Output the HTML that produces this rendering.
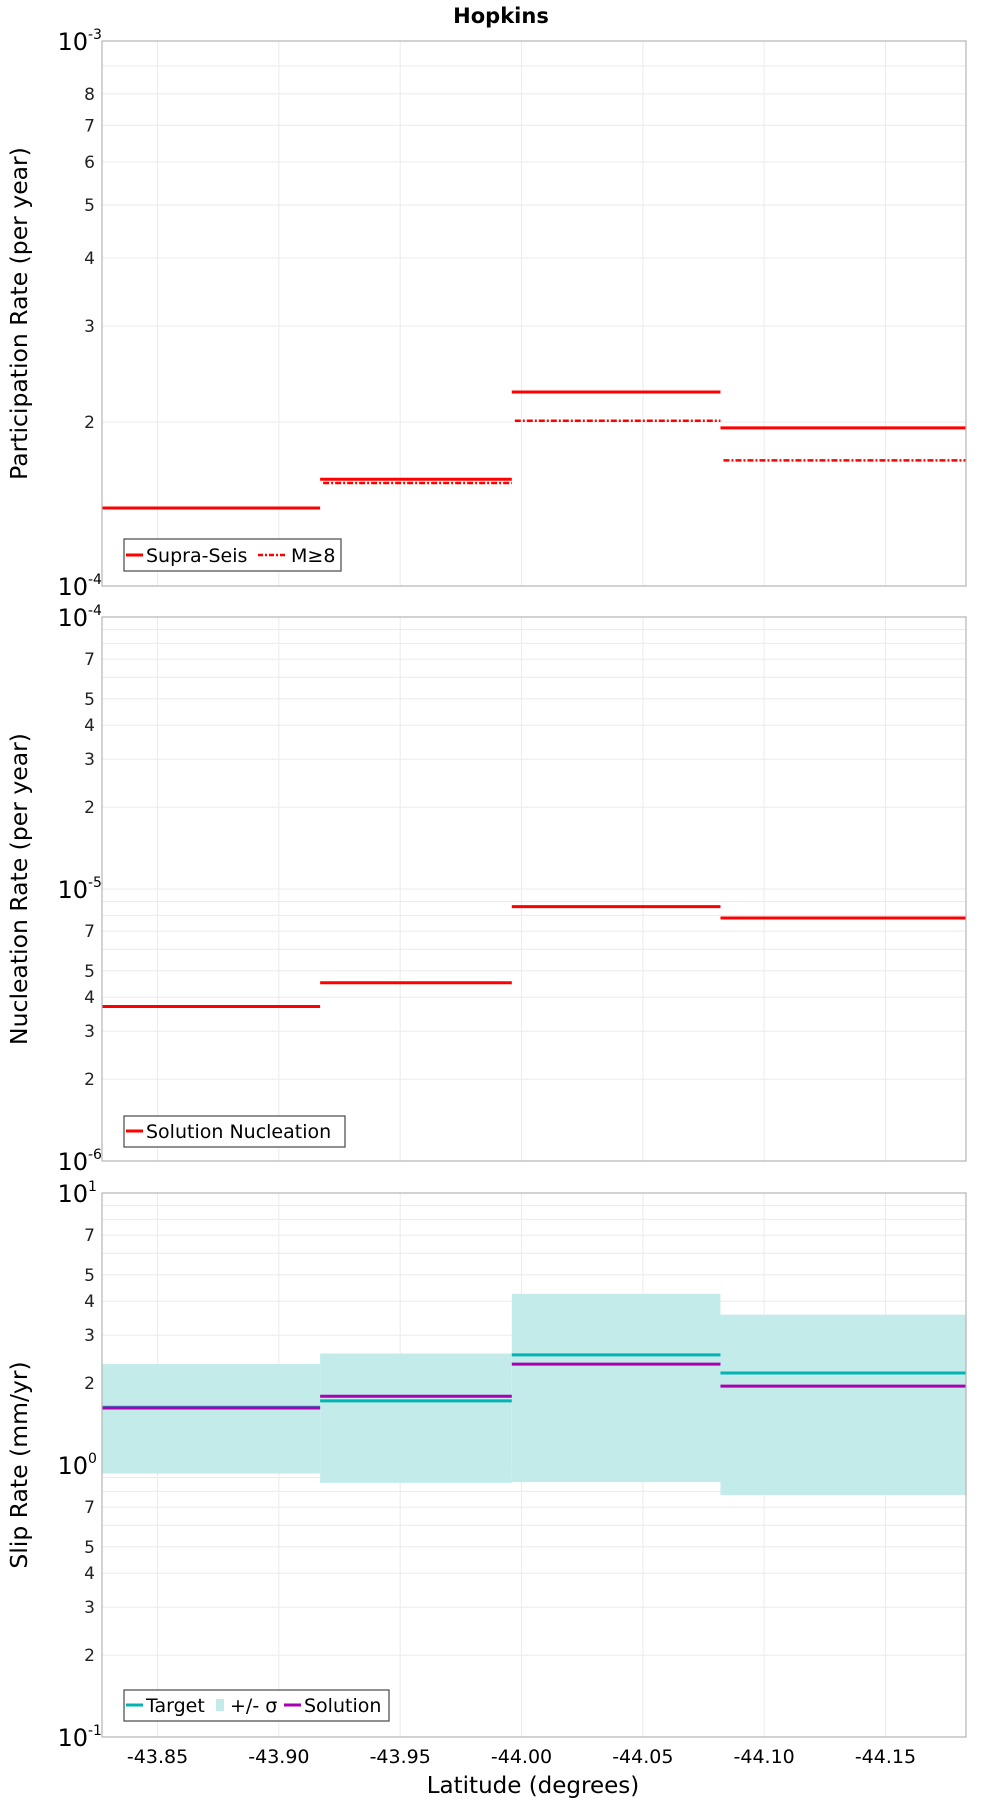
<!DOCTYPE html>
<html><head><meta charset="utf-8">
<style>
html,body{margin:0;padding:0;background:#fff;}
svg{display:block;font-family:"DejaVu Sans","Liberation Sans",sans-serif;}
</style></head>
<body>
<svg id="chart" width="1000" height="1800" viewBox="0 0 1000 1800" xmlns="http://www.w3.org/2000/svg"></svg>
<script>
// ---- data ----
const segStarts = [-43.8271, -43.917, -43.996, -44.082];
const segEnds = [-43.917, -43.996, -44.082, -44.1832];
const xTicks = [-43.85, -43.90, -43.95, -44.00, -44.05, -44.10, -44.15];
const xTickLabels = ["-43.85", "-43.90", "-43.95", "-44.00", "-44.05", "-44.10", "-44.15"];
const supraSeis = [1.39e-4, 1.57e-4, 2.27e-4, 1.95e-4];
const m8 = [1.39e-4, 1.545e-4, 2.01e-4, 1.70e-4];
const nucleation = [3.70e-6, 4.52e-6, 8.61e-6, 7.82e-6];
const slipTarget = [1.63, 1.72, 2.54, 2.18];
const slipSolution = [1.62, 1.79, 2.35, 1.95];
const slipUpper = [2.35, 2.57, 4.26, 3.57];
const slipLower = [0.93, 0.86, 0.865, 0.776];

const NS = "http://www.w3.org/2000/svg";
const svg = document.getElementById("chart");
function mk(tag, attrs, parent) {
  const e = document.createElementNS(NS, tag);
  for (const k in attrs) e.setAttribute(k, attrs[k]);
  (parent || svg).appendChild(e);
  return e;
}
const L = 102, R = 966;
const xMin = -43.8271, xMax = -44.1832;
function xs(v) { return L + (v - xMin) / (xMax - xMin) * (R - L); }

const panels = [
  {name: "participation", top: 41, bot: 586, lo: -4, hi: -3, labels: [2,3,4,5,6,7,8], title: "Participation Rate (per year)"},
  {name: "nucleation", top: 617, bot: 1161, lo: -6, hi: -4, labels: [2,3,4,5,7], title: "Nucleation Rate (per year)"},
  {name: "slip-rate", top: 1193, bot: 1737, lo: -1, hi: 1, labels: [2,3,4,5,7], title: "Slip Rate (mm/yr)"}
];
function ysFor(p) { return v => p.bot - (Math.log10(v) - p.lo) / (p.hi - p.lo) * (p.bot - p.top); }

let t = mk("text", {x: 501, y: 23, "text-anchor": "middle", "font-size": 21, "font-weight": "bold"});


t.textContent = "Hopkins";

panels.forEach((p, pi) => {
  const g = mk("g", {});
  
  
  const ys = ysFor(p);
  xTicks.forEach(v => {
    const gl = mk("line", {x1: xs(v), x2: xs(v), y1: p.top, y2: p.bot, stroke: "#ebebeb", "stroke-width": 1}, g);
    
    
  });
  for (let d = p.lo; d < p.hi; d++) {
    for (let m = 2; m <= 9; m++) {
      const y = ys(m * Math.pow(10, d));
      const gl = mk("line", {x1: L, x2: R, y1: y, y2: y, stroke: "#ebebeb", "stroke-width": 1}, g);
      
      
      if (p.labels.indexOf(m) >= 0) {
        const tl = mk("text", {x: 95, y: y + 6, "text-anchor": "end", "font-size": 17, fill: "#222"}, g);
        
        
        tl.textContent = m;
      }
    }
    if (d > p.lo) {
      const y = ys(Math.pow(10, d));
      const gl = mk("line", {x1: L, x2: R, y1: y, y2: y, stroke: "#ebebeb", "stroke-width": 1}, g);
      
      
    }
  }
  for (let d = p.lo; d <= p.hi; d++) {
    const y = ys(Math.pow(10, d));
    const tl = mk("text", {x: 88, y: y + 9, "text-anchor": "end", "font-size": 24}, g);
    
    
    tl.textContent = "10";
    const ex = mk("text", {x: 88, y: y - 2, "font-size": 14}, g);
    
    
    ex.textContent = String(d);
  }
  const cy = (p.top + p.bot) / 2;
  const yt = mk("text", {x: 27, y: cy, "text-anchor": "middle", "font-size": 23.5, transform: `rotate(-90 27 ${cy})`}, g);
  
  
  yt.textContent = p.title;

  if (pi === 0) {
    segStarts.forEach((s, i) => {
      const a = mk("line", {x1: xs(s), x2: xs(segEnds[i]), y1: ys(supraSeis[i]), y2: ys(supraSeis[i]), stroke: "#ff0000", "stroke-width": 3}, g);
      
      
      const b = mk("line", {x1: xs(s) + 3, x2: xs(segEnds[i]), y1: ys(m8[i]), y2: ys(m8[i]), stroke: "#ff0000", "stroke-width": 2.5, "stroke-dasharray": "6 2 2 2"}, g);
      
      
    });
  } else if (pi === 1) {
    segStarts.forEach((s, i) => {
      const a = mk("line", {x1: xs(s), x2: xs(segEnds[i]), y1: ys(nucleation[i]), y2: ys(nucleation[i]), stroke: "#ff0000", "stroke-width": 3}, g);
      
      
    });
  } else {
    segStarts.forEach((s, i) => {
      const yU = ys(slipUpper[i]), yL = ys(slipLower[i]);
      const b = mk("rect", {x: xs(s), y: yU, width: xs(segEnds[i]) - xs(s), height: yL - yU, fill: "#c3ebea"}, g);
      
      
    });
    segStarts.forEach((s, i) => {
      const a = mk("line", {x1: xs(s), x2: xs(segEnds[i]), y1: ys(slipTarget[i]), y2: ys(slipTarget[i]), stroke: "#00b4b4", "stroke-width": 3}, g);
      
      
      const b = mk("line", {x1: xs(s), x2: xs(segEnds[i]), y1: ys(slipSolution[i]), y2: ys(slipSolution[i]), stroke: "#aa00b4", "stroke-width": 3}, g);
      
      
    });
  }
  const fr = mk("rect", {x: L, y: p.top, width: R - L, height: p.bot - p.top, fill: "none", stroke: "#b4b4b4", "stroke-width": 1.2}, g);
  
  
});

function legendBox(x, y, w, h, name) {
  const lg = mk("g", {});
  
  
  mk("rect", {x: x, y: y, width: w, height: h, fill: "#fff", stroke: "#555", "stroke-width": 1.3}, lg);
  return lg;
}
function legText(g, x, y, s) {
  const e = mk("text", {x: x, y: y, "font-size": 19}, g);
  
  
  e.textContent = s;
}
let lg = legendBox(124, 539, 217, 32, "participation-legend");
mk("line", {x1: 126, x2: 143, y1: 555, y2: 555, stroke: "#f00", "stroke-width": 3}, lg);
legText(lg, 146, 562, "Supra-Seis");
mk("line", {x1: 258, x2: 286, y1: 555, y2: 555, stroke: "#f00", "stroke-width": 2.5, "stroke-dasharray": "5 2 2 2"}, lg);
legText(lg, 291, 562, "M≥8");

lg = legendBox(124, 1116, 221, 31, "nucleation-legend");
mk("line", {x1: 126, x2: 143, y1: 1131, y2: 1131, stroke: "#f00", "stroke-width": 3}, lg);
legText(lg, 146, 1138, "Solution Nucleation");

lg = legendBox(124, 1690, 265, 31, "slip-rate-legend");
mk("line", {x1: 126, x2: 143, y1: 1705, y2: 1705, stroke: "#00b4b4", "stroke-width": 3}, lg);
legText(lg, 146, 1712, "Target");
mk("rect", {x: 216, y: 1699, width: 8, height: 12, fill: "#c3ebea"}, lg);
legText(lg, 230, 1712, "+/- σ");
mk("line", {x1: 284, x2: 301, y1: 1705, y2: 1705, stroke: "#aa00b4", "stroke-width": 3}, lg);
legText(lg, 304, 1712, "Solution");

xTicks.forEach((v, i) => {
  const e = mk("text", {x: xs(v), y: 1763, "text-anchor": "middle", "font-size": 19});
  
  
  e.textContent = xTickLabels[i];
});
t = mk("text", {x: 533, y: 1793, "text-anchor": "middle", "font-size": 23});


t.textContent = "Latitude (degrees)";
</script>
</body></html>
